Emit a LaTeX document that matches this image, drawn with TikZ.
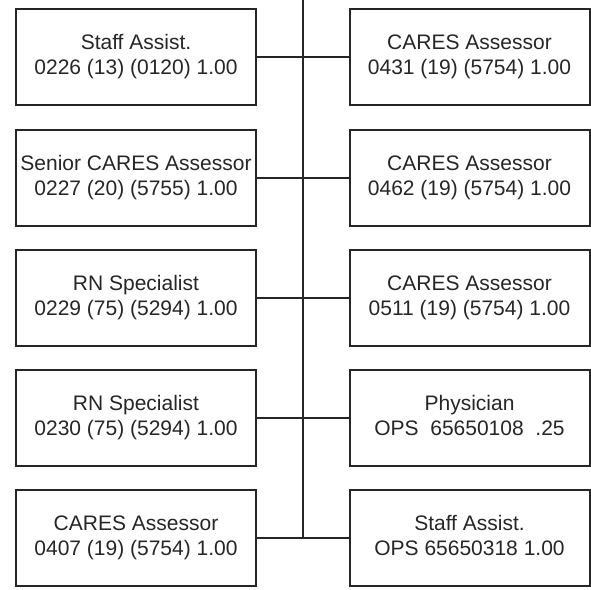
\documentclass[tikz,border=0pt]{standalone}
\usepackage{fontspec}
\setmainfont{Liberation Sans}
\newcommand{\twoline}[2]{\strut #1\\\strut #2}
\begin{document}
\begin{tikzpicture}[x=1pt,y=-1pt,
  posbox/.style={draw=black!85, line width=2pt, minimum width=240pt, minimum height=96pt,
    inner sep=0pt, align=center, font=\fontsize{21}{25}\selectfont, text=black!85},
  link/.style={draw=black!85, line width=2pt}]
\useasboundingbox (0,0) rectangle (591,589);
\node[posbox] (l1) at (136,57) {\twoline{Staff Assist.}{0226 (13) (0120) 1.00}};
\node[posbox] (l2) at (136,177.5) {\twoline{Senior CARES Assessor}{0227 (20) (5755) 1.00}};
\node[posbox] (l3) at (136,298) {\twoline{RN Specialist}{0229 (75) (5294) 1.00}};
\node[posbox] (l4) at (136,418) {\twoline{RN Specialist}{0230 (75) (5294) 1.00}};
\node[posbox] (l5) at (136,538) {\twoline{CARES Assessor}{0407 (19) (5754) 1.00}};
\node[posbox] (r1) at (469.5,57) {\twoline{CARES Assessor}{0431 (19) (5754) 1.00}};
\node[posbox] (r2) at (469.5,177.5) {\twoline{CARES Assessor}{0462 (19) (5754) 1.00}};
\node[posbox] (r3) at (469.5,298) {\twoline{CARES Assessor}{0511 (19) (5754) 1.00}};
\node[posbox] (r4) at (469.5,418) {\twoline{Physician}{OPS\ \ 65650108\ \ .25}};
\node[posbox] (r5) at (469.5,538) {\twoline{Staff Assist.}{OPS 65650318 1.00}};
\coordinate (top) at (303,0);
\coordinate (bot) at (303,537);
\draw[link] (top) -- (bot);
\foreach \i in {1,...,5}{
  \draw[link] (l\i.east) -- (l\i.east -| top) -- (r\i.west);
}
\end{tikzpicture}
\end{document}
